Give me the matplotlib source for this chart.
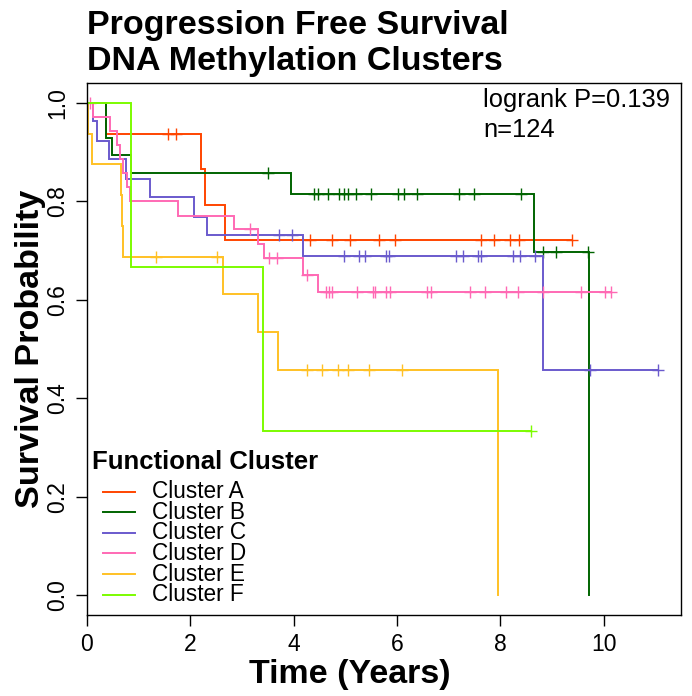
"""Kaplan-Meier style progression free survival by DNA methylation cluster."""

import matplotlib

matplotlib.use("Agg")
import matplotlib.pyplot as plt
import numpy as np

plt.rcParams["font.family"] = ["Liberation Sans", "DejaVu Sans"]

CLUSTERS = ["Cluster A", "Cluster B", "Cluster C", "Cluster D", "Cluster E", "Cluster F"]
COLORS = ["#FF4500", "#006400", "#6A5ACD", "#FF69B4", "#FFC125", "#7CFC00"]

# event times (years) and survival right after each event
a_times = [0.36, 2.20, 2.29, 2.67]
a_surv = [0.9375, 0.866, 0.793, 0.722]
a_censor = [1.56, 1.72, 4.32, 4.74, 5.10, 5.65, 5.97, 7.63, 7.87, 8.18, 8.37, 9.38]

b_times = [0.37, 0.49, 0.85, 3.95, 8.65, 9.72]
b_surv = [0.929, 0.893, 0.857, 0.814, 0.697, 0.0]
b_censor = [3.50, 4.39, 4.47, 4.66, 4.88, 4.97, 5.05, 5.21, 5.49, 6.03, 6.14,
            6.39, 7.21, 7.49, 8.40, 8.82, 9.08, 9.70]

c_times = [0.11, 0.19, 0.43, 0.75, 1.22, 2.08, 2.32, 4.18, 8.83]
c_surv = [0.962, 0.923, 0.885, 0.846, 0.808, 0.769, 0.731, 0.688, 0.458]
c_censor = [3.71, 3.97, 4.98, 5.26, 5.39, 5.78, 5.85, 7.15, 7.28, 7.57, 7.63,
            8.25, 8.38, 8.68, 9.73, 11.06]

d_times = [0.12, 0.45, 0.58, 0.64, 0.70, 0.77, 0.83, 1.76, 2.85, 3.31, 3.42, 4.19, 4.48]
d_surv = [0.971, 0.943, 0.914, 0.886, 0.857, 0.829, 0.800, 0.771, 0.743, 0.713,
          0.684, 0.651, 0.616]
d_censor = [0.05, 3.16, 3.53, 3.67, 4.26, 4.63, 4.69, 4.75, 5.23, 5.53, 5.58, 5.78,
            5.87, 6.58, 6.66, 7.41, 7.70, 8.12, 8.34, 8.83, 9.57, 10.03, 10.15]

e_times = [0.01, 0.09, 0.65, 0.685, 0.70, 2.63, 3.31, 3.70, 7.96]
e_surv = [0.9375, 0.875, 0.8125, 0.75, 0.6875, 0.611, 0.535, 0.458, 0.0]
e_censor = [1.34, 2.51, 4.25, 4.55, 4.85, 5.05, 5.45, 6.10]

f_times = [0.85, 3.40]
f_surv = [0.667, 0.333]
f_censor = [8.60]

SERIES = [
    (a_times, a_surv, a_censor),
    (b_times, b_surv, b_censor),
    (c_times, c_surv, c_censor),
    (d_times, d_surv, d_censor),
    (e_times, e_surv, e_censor),
    (f_times, f_surv, f_censor),
]

PVALUE = 0.139
N_TOTAL = 124


def draw_curve(ax, times, surv, censor, color):
    end = max(max(times), max(censor))
    x = np.array([0.0] + list(times) + [end])
    y = np.array([1.0] + list(surv) + [surv[-1]])
    ax.step(x, y, where="post", color=color, lw=1.4, solid_joinstyle="miter")
    levels = np.array([1.0] + list(surv))
    idx = np.searchsorted(np.array(times), np.array(censor), side="right")
    ax.plot(censor, levels[idx], linestyle="none", marker="+", color=color,
            markersize=9, markeredgewidth=1.0)


fig = plt.figure(figsize=(6.92, 6.96), dpi=100)
ax = fig.add_axes([0.1257, 0.1164, 0.8585, 0.7643])

for (times, surv, censor), color in zip(SERIES, COLORS):
    draw_curve(ax, times, surv, censor, color)

ax.set_xlim(0, 11.5)
ax.set_ylim(-0.04, 1.04)
ax.set_xticks([0, 2, 4, 6, 8, 10])
ax.set_yticks([0.0, 0.2, 0.4, 0.6, 0.8, 1.0])
ax.set_yticklabels([f"{v:.1f}" for v in [0.0, 0.2, 0.4, 0.6, 0.8, 1.0]],
                   rotation=90, va="center")
ax.tick_params(axis="both", labelsize=16.5, length=8, width=1.0, pad=5)
for spine in ax.spines.values():
    spine.set_linewidth(1.0)

ax.set_xlabel("Time (Years)", fontsize=24.5, fontweight="bold", labelpad=2)
ax.xaxis.label.set_x(0.443)
ax.set_ylabel("Survival Probability", fontsize=24.6, fontweight="bold", labelpad=0)

fig.text(0.126, 0.985, "Progression Free Survival\nDNA Methylation Clusters",
         fontsize=24.5, fontweight="bold", ha="left", va="top", linespacing=1.2)

ax.text(0.667, 0.968, f"logrank P={PVALUE}", transform=ax.transAxes,
        fontsize=18.4, ha="left", va="center")
ax.text(0.667, 0.912, f"n={N_TOTAL}", transform=ax.transAxes,
        fontsize=18.4, ha="left", va="center")

# legend drawn by hand to match tight R row spacing
ax.text(0.0084, 0.2876, "Functional Cluster", transform=ax.transAxes,
        fontsize=18.5, fontweight="bold", ha="left", va="center")
row_step = 20.6 / 532
for i, (label, color) in enumerate(zip(CLUSTERS, COLORS)):
    yy = 0.2318 - i * row_step
    ax.plot([0.0274, 0.0808], [yy, yy], transform=ax.transAxes, color=color, lw=1.4)
    ax.text(0.1094, yy, label, transform=ax.transAxes, fontsize=16.3,
            ha="left", va="center")

fig.savefig("out.png", dpi=100)
